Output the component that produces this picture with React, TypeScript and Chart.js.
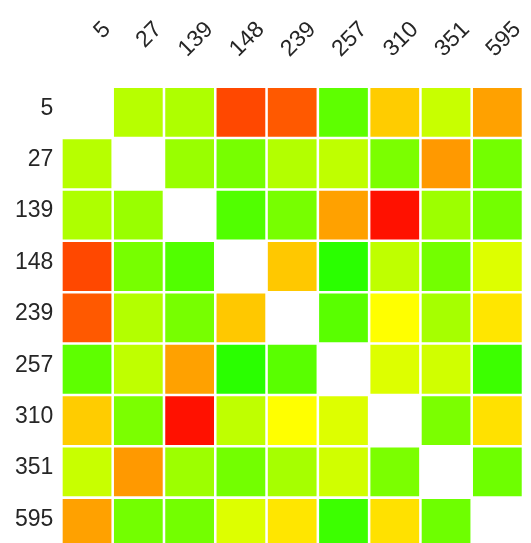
import React, { useEffect, useRef } from "react";
import { Chart, registerables } from "chart.js";

Chart.register(...registerables);

// Category labels (same for rows and columns)
const labels = ["5", "27", "139", "148", "239", "257", "310", "351", "595"];

// Pairwise scores (hue on a red→green scale, 0 = red, 120 = green); diagonal empty
const row5 = [null, 77, 79, 17, 21, 98, 48, 73, 38];
const row27 = [77, null, 84, 92, 78, 75, 91, 36, 93];
const row139 = [79, 84, null, 101, 92, 38, 4, 83, 93];
const row148 = [17, 92, 101, null, 47, 110, 75, 93, 68];
const row239 = [21, 78, 92, 47, null, 99, 60, 81, 54];
const row257 = [98, 75, 38, 110, 99, null, 68, 71, 106];
const row310 = [48, 91, 4, 75, 60, 68, null, 91, 53];
const row351 = [73, 36, 83, 93, 81, 71, 91, null, 94];
const row595 = [38, 93, 93, 68, 54, 106, 53, 94, null];

const matrix = [row5, row27, row139, row148, row239, row257, row310, row351, row595];

const FONT = '"Liberation Sans", Arial, sans-serif';
const TEXT_COLOR = "#262626";

function colorFor(v: number | null): string {
  return v == null ? "rgba(255,255,255,0)" : `hsl(${v}, 100%, 50%)`;
}

const topLabelsPlugin = {
  id: "topLabels",
  afterDraw(chart: any) {
    const ctx = chart.ctx;
    const xs = chart.scales.x;
    ctx.save();
    ctx.font = `23px ${FONT}`;
    ctx.fillStyle = TEXT_COLOR;
    ctx.textAlign = "right";
    ctx.textBaseline = "middle";
    labels.forEach((lab, j) => {
      const cx = xs.getPixelForValue(j + 0.5);
      ctx.save();
      ctx.translate(cx + 20, 18);
      ctx.rotate(-Math.PI / 4);
      ctx.fillText(lab, 0, 0);
      ctx.restore();
    });
    ctx.restore();
  },
};

export default function App() {
  const ref = useRef<HTMLCanvasElement | null>(null);

  useEffect(() => {
    if (!ref.current) return;
    const datasets = labels.map((colLabel, j) => ({
      label: colLabel,
      data: labels.map(() => 1),
      backgroundColor: matrix.map((row) => colorFor(row[j])),
      borderColor: matrix.map((row) => (row[j] == null ? "rgba(255,255,255,0)" : "#ffffff")),
      borderWidth: 1.6,
      borderSkipped: false,
      barPercentage: 1,
      categoryPercentage: 1,
    }));

    const chart = new Chart(ref.current, {
      type: "bar",
      data: { labels, datasets },
      options: {
        indexAxis: "y",
        animation: false,
        responsive: true,
        maintainAspectRatio: false,
        layout: { padding: { top: 78.7, left: 0, right: 0, bottom: 0 } },
        plugins: {
          legend: { display: false },
          tooltip: { enabled: false },
        },
        scales: {
          x: {
            type: "linear",
            stacked: true,
            min: 0,
            max: labels.length,
            display: false,
          },
          y: {
            type: "category",
            stacked: true,
            grid: { display: false, drawTicks: false },
            border: { display: false },
            ticks: {
              font: { size: 23, family: FONT },
              color: TEXT_COLOR,
              padding: 8,
              labelOffset: -4,
            },
            afterFit: (scale: any) => {
              scale.width = 53.4;
              scale.paddingTop = 0;
              scale.paddingBottom = 0;
            },
          },
        },
      } as any,
      plugins: [topLabelsPlugin],
    });
    return () => chart.destroy();
  }, []);

  return (
    <div style={{ position: "relative", height: "541px" }}>
      <canvas ref={ref} />
    </div>
  );
}
